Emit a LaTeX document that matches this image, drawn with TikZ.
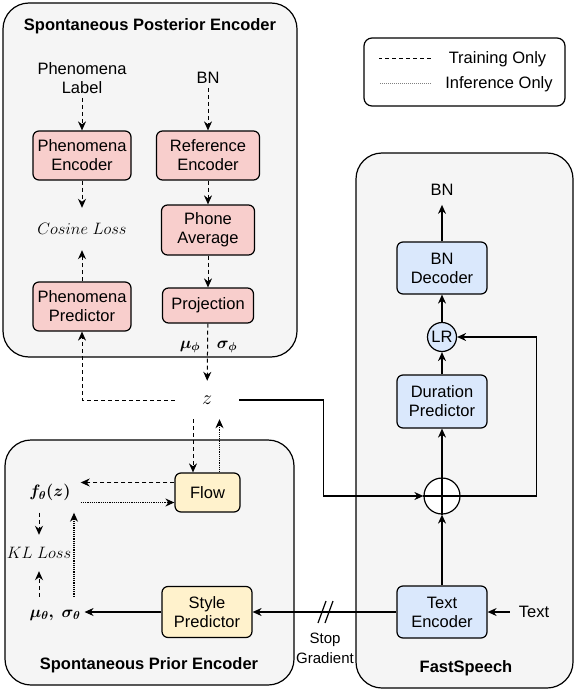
\RequirePackage{fix-cm}
\documentclass[tikz,border=0pt]{standalone}
\usepackage{fontspec}
\setmainfont{Liberation Sans}
\usepackage{amsmath,amssymb}
\usepackage{tikz}
\usetikzlibrary{arrows.meta,positioning}
\definecolor{panelgray}{HTML}{F5F5F5}
\definecolor{pinkfill}{HTML}{F8CECC}
\definecolor{yellowfill}{HTML}{FFF2CC}
\definecolor{bluefill}{HTML}{DAE8FC}
\begin{document}
\begin{tikzpicture}[x=1pt, y=-1pt, font=\fontsize{16.5}{19}\selectfont,
  panel/.style={draw, line width=1.2pt, rounded corners=26pt, fill=panelgray},
  box/.style={draw, line width=1.2pt, rounded corners=6pt, align=center,
              inner sep=2pt, fill=#1},
  box/.default=white,
  lbl/.style={align=center, inner sep=4pt},
  ttl/.style={font=\fontsize{16.5}{19}\selectfont\bfseries},
  arr/.style={-{Stealth[length=9pt,width=8pt]}, line width=1.2pt},
  train/.style={arr, line width=1pt, dash pattern=on 4pt off 3pt},
  infer/.style={arr, line width=1.1pt, dash pattern=on 1.2pt off 1pt}]
\useasboundingbox (0,0) rectangle (576,690);
% panels
\node[panel, minimum width=294pt, minimum height=354pt] (post) at (150,180) {};
\node[panel, minimum width=289pt, minimum height=245pt] (prior) at (149.5,562.5) {};
\node[panel, minimum width=217pt, minimum height=535pt] (fast) at (464.5,420.5) {};
\node[ttl] (posttitle) at (150,26) {Spontaneous Posterior Encoder};
\node[ttl] (priortitle) at (149,665) {Spontaneous Prior Encoder};
\node[ttl] (fasttitle) at (466,668) {FastSpeech};
% legend
\node[draw, line width=1.2pt, rounded corners=8pt, minimum width=201pt,
      minimum height=68pt] (legend) at (464.5,72) {};
\node[lbl] (legtrain) at (497.5,59) {Training Only};
\node[lbl] (leginfer) at (499,84) {Inference Only};
\draw[line width=1pt, dash pattern=on 4pt off 3pt] ([xshift=-14pt]legtrain.west) -- ++(-52,0);
\draw[line width=1pt, gray, dash pattern=on 1pt off 1pt] ([xshift=-14pt]legtrain.west |- leginfer.west) -- ++(-52,0);
% posterior encoder
\node[lbl] (phenlabel) at (82,78) {Phenomena\\Label};
\node[lbl] (bnin) at (208,78) {BN};
\node[box=pinkfill, minimum width=98pt, minimum height=49pt] (phenenc) at (82,155.5) {Phenomena\\Encoder};
\node[box=pinkfill, minimum width=103pt, minimum height=49pt] (refenc) at (208,155.5) {Reference\\Encoder};
\node[lbl, minimum height=42pt] (cosloss) at (82,229) {$Cosine\ Loss$};
\node[box=pinkfill, minimum width=93pt, minimum height=50pt] (phoneavg) at (208,230) {Phone\\Average};
\node[box=pinkfill, minimum width=98pt, minimum height=49pt] (phenpred) at (82,306.5) {Phenomena\\Predictor};
\node[box=pinkfill, minimum width=91pt, minimum height=35pt] (proj) at (208,305.5) {Projection};
\node[lbl] (muphi) at (190,347) {$\boldsymbol{\mu_\phi}$};
\node[lbl] (sigphi) at (227,347) {$\boldsymbol{\sigma_\phi}$};
\node[lbl, minimum width=64pt, minimum height=38pt, font=\fontsize{20}{24}\selectfont] (z) at (207,400) {$z$};
% prior encoder
\node[box=yellowfill, minimum width=65pt, minimum height=39pt] (flow) at (207.5,492.5) {Flow};
\node[lbl, minimum height=40pt, inner xsep=10pt] (ftheta) at (50,492.5) {$\boldsymbol{f_\theta(z)}$};
\node[lbl, minimum height=36pt] (klloss) at (39,553) {$KL\ Loss$};
\node[lbl, minimum height=36pt] (musig) at (55,615) {$\boldsymbol{\mu_\theta,\ \sigma_\theta}$};
\node[box=yellowfill, minimum width=90pt, minimum height=51pt] (stylepred) at (207,612) {Style\\Predictor};
% fastspeech
\node[lbl, inner sep=9pt] (bnout) at (442,190) {BN};
\node[box=bluefill, minimum width=90pt, minimum height=52pt] (bndec) at (442,268) {BN\\Decoder};
\node[draw, circle, line width=1.2pt, fill=bluefill, minimum size=29pt, inner sep=0pt] (lr) at (442,337) {LR};
\node[box=bluefill, minimum width=90pt, minimum height=53pt] (durpred) at (442,401.5) {Duration\\Predictor};
\node[draw, circle, line width=1.2pt, fill=white, minimum size=36pt] (sum) at (442,496) {};
\node[box=bluefill, minimum width=90pt, minimum height=52pt] (textenc) at (442,612) {Text\\Encoder};
\node[lbl, inner xsep=9pt] (textin) at (534,612) {Text};
\node[lbl, font=\fontsize{15}{20}\selectfont] (stopgrad) at (325,648) {Stop\\Gradient};
\coordinate (cut) at (326,612);
% connectors
\draw[train] (phenlabel) -- (phenenc);
\draw[train] (bnin) -- (refenc);
\draw[train] (phenenc) -- (cosloss);
\draw[train] (phenpred) -- (cosloss);
\draw[train] (refenc) -- (phoneavg);
\draw[train] (phoneavg) -- (proj);
\draw[train] (proj) -- (z);
\draw[train] (z.west) -| (phenpred.south);
\draw[arr] (z.east) -- ++(84,0) |- (sum.west);
\draw[train] ([xshift=-14pt]z.south) -- ([xshift=-14pt]z.south |- flow.north);
\draw[infer] ([xshift=12pt]flow.north) -- ([xshift=12pt]flow.north |- z.south);
\draw[train] ([yshift=10pt]flow.west) -- ([yshift=10pt]flow.west -| ftheta.east);
\draw[infer] ([yshift=-10pt]ftheta.east) -- ([yshift=-10pt]ftheta.east -| flow.west);
\draw[train] (ftheta.south -| klloss) -- (klloss.north);
\draw[train] (musig.north -| klloss) -- (klloss.south);
\draw[infer] ([xshift=19pt]musig.north) -- ([xshift=19pt]musig.north |- ftheta.south);
\draw[arr] (stylepred.west) -- (stylepred.west -| musig.east);
\draw[arr] (textenc.west) -- (stylepred.east);
\draw[line width=1.2pt] ([xshift=-8pt,yshift=-11pt]cut) -- ++(8,-22)
  ([xshift=-1pt,yshift=-11pt]cut) -- ++(8,-22);
\draw[arr] (textin) -- (textenc);
\draw[arr] (textenc) -- (sum);
\draw[line width=1.2pt] (sum.north) -- (sum.south) (sum.west) -- (sum.east);
\draw[arr] (sum) -- (durpred);
\draw[arr] (sum.east) -- ++(76,0) |- (lr.east);
\draw[arr] (durpred) -- (lr);
\draw[arr] (lr) -- (bndec);
\draw[arr] (bndec) -- (bnout);
\end{tikzpicture}
\end{document}
